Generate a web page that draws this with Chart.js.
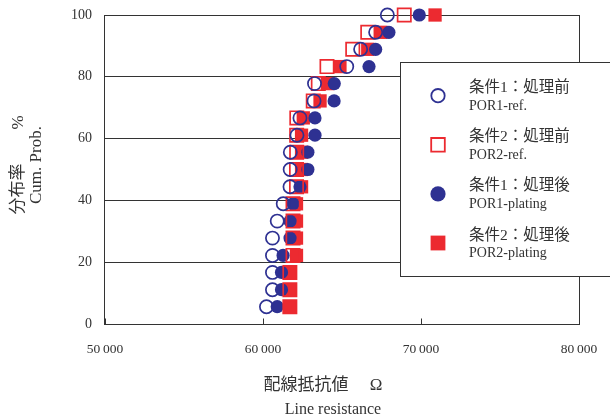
<!DOCTYPE html>
<html>
<head>
<meta charset="utf-8">
<script src="https://cdn.jsdelivr.net/npm/chart.js@4.4.1/dist/chart.umd.min.js"></script>
<style>
  html, body { margin: 0; padding: 0; background: #ffffff; }
  #wrap { width: 610px; height: 418px; }
</style>
</head>
<body>
<div id="wrap"><canvas id="c" width="610" height="418"></canvas></div>
<script>
// Cumulative probability (%) of each ranked sample, 18 samples per condition
const cumProb = [5.6, 11.1, 16.7, 22.2, 27.8, 33.3, 38.9, 44.4, 50.0, 55.6, 61.1, 66.7, 72.2, 77.8, 83.3, 88.9, 94.4, 100];

// Line resistance (Ω), sorted ascending for each condition
const por1Ref     = [60220, 60600, 60600, 60600, 60600, 60900, 61280, 61710, 61720, 61730, 62150, 62340, 63230, 63260, 65300, 66180, 67130, 67870];
const por2Ref     = [61700, 61700, 61700, 61900, 61900, 61900, 61900, 62120, 62120, 62130, 62130, 62140, 63180, 63500, 64050, 65680, 66630, 68940];
const por1Plating = [60900, 61170, 61170, 61270, 61710, 61710, 61900, 62340, 62840, 62840, 63290, 63290, 64500, 64510, 66710, 67130, 67970, 69890];
const por2Plating = [61710, 61710, 61710, 62120, 62120, 62120, 62120, 62440, 62440, 62440, 62440, 62550, 63610, 64070, 64870, 66630, 67470, 70890];

// Axis ticks and labels
const xTicks = [50000, 60000, 70000, 80000];
const xTickLabels = ['50\u2009000', '60\u2009000', '70\u2009000', '80\u2009000'];
const yTicks = [0, 20, 40, 60, 80, 100];
const yTickLabels = ['0', '20', '40', '60', '80', '100'];

// Series names (Japanese / English) and axis titles
const seriesJa = ['条件1：処理前', '条件2：処理前', '条件1：処理後', '条件2：処理後'];
const seriesEn = ['POR1-ref.', 'POR2-ref.', 'POR1-plating', 'POR2-plating'];
const yTitle = ['分布率\u3000\u3000%', 'Cum. Prob.'];
const xTitle = ['配線抵抗値\u3000 Ω', 'Line resistance'];

const BLUE = '#2e3192';
const RED = '#ec2a30';
const INK = '#333333';
const SERIF = "'Liberation Serif', 'DejaVu Serif', serif";
const MIXED = "'Liberation Serif', 'Noto Sans CJK JP', serif";

const toPoints = vals => vals.map((v, i) => ({ x: v, y: cumProb[i] }));

const markers = [
  { style: 'circle', filled: false, color: BLUE },
  { style: 'rect',   filled: false, color: RED },
  { style: 'circle', filled: true,  color: BLUE },
  { style: 'rect',   filled: true,  color: RED }
];
const seriesValues = [por1Ref, por2Ref, por1Plating, por2Plating];

const datasets = seriesValues.map((vals, i) => {
  const m = markers[i];
  return {
    label: seriesEn[i],
    data: toPoints(vals),
    showLine: false,
    clip: false,
    pointStyle: m.style,
    pointRadius: m.style === 'circle' ? 6.6 : 9.4,
    pointBorderWidth: m.filled ? 0 : 1.7,
    pointBorderColor: m.color,
    pointBackgroundColor: m.filled ? m.color : 'rgba(255,255,255,0)'
  };
});

// keep the plot box fixed: tick labels sit in the margins
const noScalePadding = s => {
  s.paddingTop = 0; s.paddingBottom = 0; s.paddingLeft = 0; s.paddingRight = 0;
};

// Frame, inner ticks, axis titles and the boxed legend
const decor = {
  id: 'decor',
  beforeDatasetsDraw(chart) {
    const { ctx, chartArea: a, scales } = chart;
    ctx.save();
    ctx.strokeStyle = INK;
    ctx.lineWidth = 1;
    const l = Math.round(a.left) - 0.5, t = Math.round(a.top) + 0.5;
    const r = Math.round(a.right) + 0.5, b = Math.round(a.bottom) + 0.5;
    ctx.strokeRect(l, t, r - l, b - t);
    ctx.beginPath();
    xTicks.forEach(v => {
      const px = Math.round(scales.x.getPixelForValue(v)) + 0.5;
      ctx.moveTo(px, b);
      ctx.lineTo(px, b - 6);
    });
    ctx.stroke();
    ctx.restore();
  },
  afterDraw(chart) {
    const { ctx } = chart;
    ctx.save();
    ctx.fillStyle = INK;
    ctx.textAlign = 'center';
    ctx.textBaseline = 'middle';

    // y-axis title, rotated
    const yc = 165;
    ctx.save();
    ctx.translate(19, yc);
    ctx.rotate(-Math.PI / 2);
    ctx.font = "17px " + MIXED;
    ctx.fillText(yTitle[0], 0, 0);
    ctx.restore();
    ctx.save();
    ctx.translate(37, yc);
    ctx.rotate(-Math.PI / 2);
    ctx.font = "17px " + SERIF;
    ctx.fillText(yTitle[1], 0, 0);
    ctx.restore();

    // x-axis title
    ctx.font = "17px " + MIXED;
    ctx.fillText(xTitle[0], 323, 386);
    ctx.font = "16px " + SERIF;
    ctx.fillText(xTitle[1], 333, 410);

    // legend box
    const bx = 400.5, by = 62.5, bw = 230, bh = 214;
    ctx.fillStyle = '#ffffff';
    ctx.fillRect(bx, by, bw, bh);
    ctx.strokeStyle = INK;
    ctx.lineWidth = 1;
    ctx.strokeRect(bx, by, bw, bh);

    ctx.textAlign = 'left';
    for (let i = 0; i < 4; i++) {
      const m = markers[i];
      const cy = 95.7 + i * 49.1;
      const cx = 438;
      ctx.beginPath();
      if (m.style === 'circle') {
        ctx.arc(cx, cy, m.filled ? 7.6 : 6.7, 0, Math.PI * 2);
      } else {
        const h = m.filled ? 7.4 : 6.8;
        ctx.rect(cx - h, cy - h, 2 * h, 2 * h);
      }
      if (m.filled) {
        ctx.fillStyle = m.color;
        ctx.fill();
      } else {
        ctx.strokeStyle = m.color;
        ctx.lineWidth = 1.8;
        ctx.stroke();
      }
      ctx.fillStyle = INK;
      ctx.font = "15.5px " + MIXED;
      ctx.fillText(seriesJa[i], 469, cy - 7.5);
      ctx.font = "14px " + SERIF;
      ctx.fillText(seriesEn[i], 469, cy + 10.5);
    }
    ctx.restore();
  }
};

new Chart(document.getElementById('c'), {
  type: 'scatter',
  data: { datasets },
  options: {
    responsive: false,
    animation: false,
    events: [],
    layout: { autoPadding: false, padding: { top: 15, right: 31, left: 0, bottom: 0 } },
    plugins: {
      legend: { display: false },
      tooltip: { enabled: false }
    },
    scales: {
      x: {
        type: 'linear',
        min: 50000,
        max: 80000,
        afterBuildTicks: s => { s.ticks = xTicks.map(v => ({ value: v })); },
        afterFit: s => { s.height = 94; noScalePadding(s); },
        grid: { display: false, drawTicks: false },
        border: { display: false },
        ticks: {
          padding: 17,
          color: INK,
          font: { family: SERIF, size: 13.5 },
          maxRotation: 0,
          callback: v => xTickLabels[xTicks.indexOf(v)]
        }
      },
      y: {
        type: 'linear',
        min: 0,
        max: 100,
        afterBuildTicks: s => { s.ticks = yTicks.map(v => ({ value: v })); },
        afterFit: s => { s.width = 105; noScalePadding(s); },
        grid: { color: INK, lineWidth: 1, drawTicks: false },
        border: { display: false },
        ticks: {
          padding: 13,
          color: INK,
          font: { family: SERIF, size: 14 },
          callback: v => yTickLabels[yTicks.indexOf(v)]
        }
      }
    }
  },
  plugins: [decor]
});
</script>
</body>
</html>
